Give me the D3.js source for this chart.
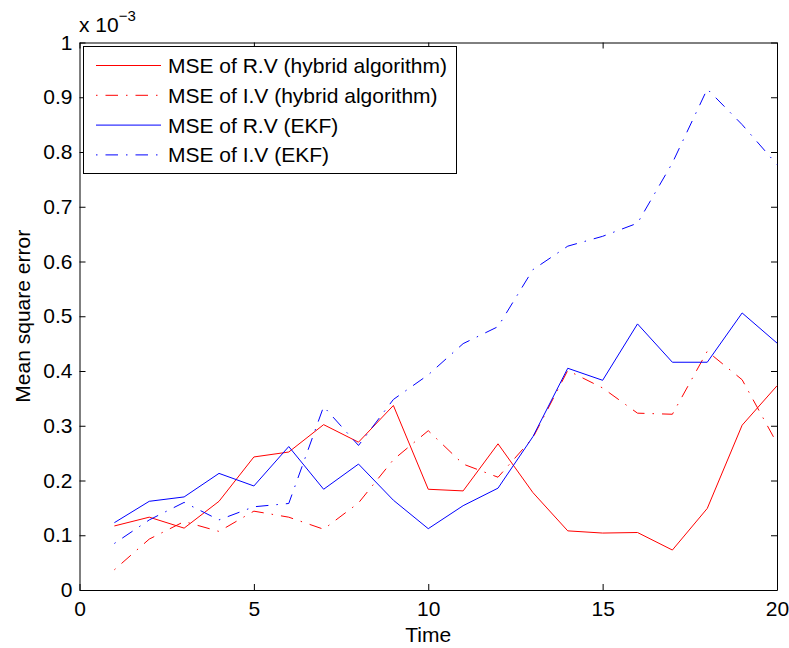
<!DOCTYPE html>
<html><head><meta charset="utf-8">
<script src="https://cdn.jsdelivr.net/npm/d3@7"></script>
<style>body{margin:0;background:#fff}text{font-family:"Liberation Sans",Arial,sans-serif;fill:#000}</style>
</head><body><svg id="c" width="789" height="648"></svg>
<script>
const time = d3.range(1, 21);
const rvHybrid = [0.117,0.133,0.113,0.162,0.243,0.252,0.302,0.270,0.337,0.184,0.181,0.267,0.178,0.108,0.104,0.105,0.073,0.149,0.301,0.373];
const ivHybrid = [0.037,0.093,0.125,0.107,0.144,0.133,0.111,0.159,0.238,0.291,0.230,0.206,0.278,0.401,0.369,0.323,0.321,0.436,0.384,0.268];
const rvEKF = [0.123,0.162,0.170,0.213,0.190,0.262,0.184,0.230,0.164,0.112,0.154,0.186,0.280,0.405,0.383,0.486,0.416,0.416,0.506,0.451];
const ivEKF = [0.085,0.128,0.160,0.128,0.152,0.158,0.335,0.264,0.348,0.393,0.450,0.481,0.585,0.628,0.646,0.670,0.780,0.915,0.850,0.777];
const xTicks = [0,5,10,15,20];
const yTicks = [0,0.1,0.2,0.3,0.4,0.5,0.6,0.7,0.8,0.9,1];
const seriesNames = ["MSE of R.V (hybrid algorithm)","MSE of I.V (hybrid algorithm)","MSE of R.V (EKF)","MSE of I.V (EKF)"];

const DD = "1.5,8,12.5,8";
const series = [
  {name: seriesNames[0], values: rvHybrid, color: "#ff0000", dash: null},
  {name: seriesNames[1], values: ivHybrid, color: "#ff0000", dash: DD},
  {name: seriesNames[2], values: rvEKF, color: "#0000ff", dash: null},
  {name: seriesNames[3], values: ivEKF, color: "#0000ff", dash: DD}
];

const FS = "21px";
const L = 79.5, R = 777, T = 42.5, B = 590;
const svg = d3.select("#c");
const x = d3.scaleLinear().domain([0,20]).range([L,R]);
const y = d3.scaleLinear().domain([0,1]).range([B,T]);

const fmtY = d => d === 0 ? "0" : d === 1 ? "1" : d3.format(".1f")(d);

const ax = svg.append("g").attr("transform",`translate(0,${B})`)
  .call(d3.axisBottom(x).tickValues(xTicks).tickSizeInner(-6).tickSizeOuter(0).tickPadding(11));
const axT = svg.append("g").attr("transform",`translate(0,${T})`)
  .call(d3.axisTop(x).tickValues(xTicks).tickSizeInner(-6).tickSizeOuter(0).tickFormat(""));
const ay = svg.append("g").attr("transform",`translate(${L},0)`)
  .call(d3.axisLeft(y).tickValues(yTicks).tickFormat(fmtY).tickSizeInner(-6).tickSizeOuter(0).tickPadding(7));
const ayR = svg.append("g").attr("transform",`translate(${R},0)`)
  .call(d3.axisRight(y).tickValues(yTicks).tickSizeInner(-6).tickSizeOuter(0).tickFormat(""));
[ax,axT,ay,ayR].forEach(g=>{
  g.selectAll(".domain").attr("stroke","#000").attr("stroke-width",1);
  g.selectAll(".tick line").attr("stroke","#000");
  g.selectAll("text").style("font-size",FS).attr("fill","#000")
   .style("font-family","'Liberation Sans',Arial,sans-serif");
});
ax.selectAll("text").attr("dy","0.71em");

const line = d3.line().x((d,i)=>x(time[i])).y(d=>y(d));
series.forEach(s=>{
  svg.append("path").datum(s.values).attr("d",line).attr("fill","none")
    .attr("stroke",s.color).attr("stroke-width",1)
    .attr("stroke-dasharray",s.dash);
});

const ex = svg.append("text").attr("x",79).attr("y",32).style("font-size",FS);
ex.append("tspan").text("x 10");
ex.append("tspan").attr("dy",-11).style("font-size","15px").text("\u22123");

svg.append("text").attr("x",(L+R)/2).attr("y",642).attr("text-anchor","middle").style("font-size",FS).text("Time");
svg.append("text").attr("transform",`translate(30,${(T+B)/2}) rotate(-90)`).attr("text-anchor","middle").style("font-size",FS).text("Mean square error");

const lg = svg.append("g");
lg.append("rect").attr("x",83.5).attr("y",46.5).attr("width",373).attr("height",127)
  .attr("fill","#fff").attr("stroke","#000").attr("stroke-width",1);
series.forEach((s,i)=>{
  const yy = 65.5 + i*29.8;
  lg.append("line").attr("x1",96).attr("x2",161).attr("y1",yy).attr("y2",yy)
    .attr("stroke",s.color).attr("stroke-width",1).attr("stroke-dasharray",s.dash);
  lg.append("text").attr("x",168).attr("y",yy).attr("dy","0.36em").style("font-size",FS).text(s.name);
});
</script></body></html>
